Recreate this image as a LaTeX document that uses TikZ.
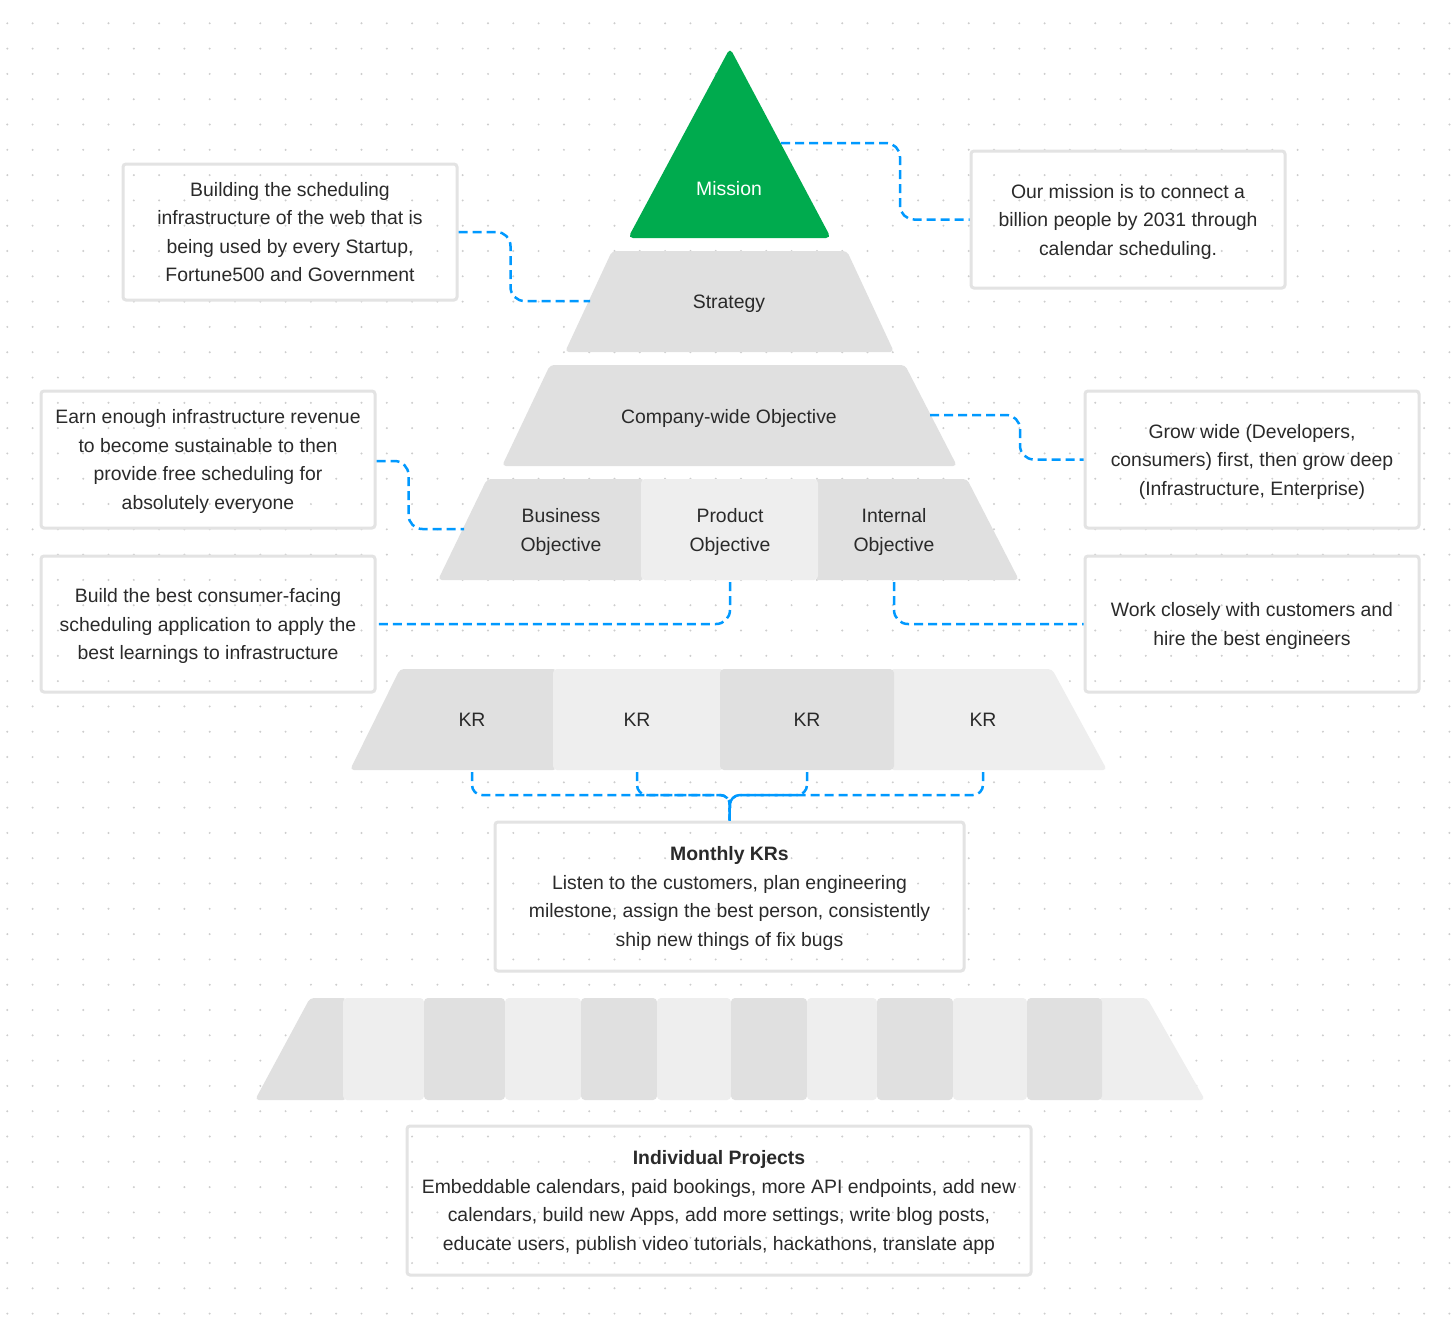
\documentclass[tikz,border=0pt]{standalone}
\usepackage{fontspec}
\setmainfont{Liberation Sans}
\usetikzlibrary{calc}

\definecolor{missiongreen}{HTML}{00AB4E}
\definecolor{tierdark}{HTML}{E0E0E0}
\definecolor{tierlight}{HTML}{EEEEEE}
\definecolor{linkblue}{HTML}{0099FF}
\definecolor{noteline}{HTML}{E3E3E3}
\definecolor{ink}{HTML}{2A2A2A}
\definecolor{griddot}{HTML}{CDCDCD}

\tikzset{
  note/.style={draw=noteline, line width=3pt, rounded corners=3pt, align=center,
    inner sep=0pt, text=ink, text depth=0pt, font=\fontsize{19.4}{28.5}\selectfont},
  tiertext/.style={align=center, text=ink, text depth=0pt, font=\fontsize{19.4}{28.5}\selectfont},
  link/.style={draw=linkblue, line width=2.5pt, dash pattern=on 9pt off 5pt, rounded corners=14pt},
}

\begin{document}
\begin{tikzpicture}[x=1pt,y=-1pt]

\fill[white] (0,0) rectangle (1452,1318);
\useasboundingbox (0,0) rectangle (1452,1318);

% dotted canvas
\foreach \gx in {0,...,57}
  \foreach \gy in {0,...,51}
    \fill[griddot] (7.3+25.3*\gx, 23.3+25.3*\gy) circle (1.1);

% pyramid
\fill[missiongreen, rounded corners=5pt] (730,48) -- (831,238) -- (628,238) -- cycle;
\fill[tierdark, rounded corners=4pt] (612,251) -- (847,251) -- (894,352) -- (565,352) -- cycle;
\fill[tierdark, rounded corners=4pt] (550,365) -- (905,365) -- (957,466) -- (502,466) -- cycle;

\fill[tierdark, rounded corners=4pt] (487,479) -- (645,479) -- (645,580) -- (438,580) -- cycle;
\fill[tierdark, rounded corners=4pt] (814,479) -- (967,479) -- (1019,580) -- (814,580) -- cycle;
\fill[tierlight, rounded corners=4pt] (641,479) rectangle (818,580);

\fill[tierdark, rounded corners=4pt] (400,669) -- (557,669) -- (557,770) -- (350,770) -- cycle;
\fill[tierlight, rounded corners=4pt] (890,669) -- (1052,669) -- (1107,770) -- (890,770) -- cycle;
\fill[tierlight, rounded corners=4pt] (553,669) rectangle (724,770);
\fill[tierdark, rounded corners=4pt] (720,669) rectangle (894,770);

% project strip
\fill[tierdark, rounded corners=4pt] (310,998) -- (347,998) -- (347,1100) -- (255,1100) -- cycle;
\fill[tierlight, rounded corners=4pt] (1098,998) -- (1147,998) -- (1205,1100) -- (1098,1100) -- cycle;
\foreach \xa/\xb [count=\i] in {343/424,424/505,505/581,581/657,657/731,731/807,807/877,877/953,953/1027,1027/1102}
{
  \pgfmathparse{mod(\i,2)==0 ? "tierdark" : "tierlight"}
  \fill[\pgfmathresult, rounded corners=4pt] (\xa,998) rectangle (\xb,1100);
}

% tier labels
\node[tiertext, text=white] (mission) at (729,188) {Mission};
\node[tiertext] (strategy) at (729,302) {Strategy};
\node[tiertext] (company) at (729,416) {Company-wide Objective};
\node[tiertext] (business) at (561,530) {Business\\Objective};
\node[tiertext] (product) at (730,530) {Product\\Objective};
\node[tiertext] (internal) at (894,530) {Internal\\Objective};
\node[tiertext] (kr1) at (472,720) {KR};
\node[tiertext] (kr2) at (637,720) {KR};
\node[tiertext] (kr3) at (807,720) {KR};
\node[tiertext] (kr4) at (983,720) {KR};

\coordinate (missionE) at (781,143);
\coordinate (strategyW) at (590,301);
\coordinate (companyE) at (930,415);
\coordinate (businessW) at (464,529);
\coordinate (objbase) at (0,582);
\coordinate (krbase) at (0,772);
\coordinate (krjoin) at (730,795);

% notes
\node[note, minimum width=334pt, minimum height=136pt] (strategyNote) at (290,232)
  {Building the scheduling\\infrastructure of the web that is\\being used by every Startup,\\Fortune500 and Government};
\node[note, minimum width=314pt, minimum height=137pt] (missionNote) at (1128,219.5)
  {Our mission is to connect a\\billion people by 2031 through\\calendar scheduling.};
\node[note, minimum width=334pt, minimum height=137pt] (revenueNote) at (208,459.5)
  {Earn enough infrastructure revenue\\to become sustainable to then\\provide free scheduling for\\absolutely everyone};
\node[note, minimum width=334pt, minimum height=137pt] (growNote) at (1252,459.5)
  {Grow wide (Developers,\\consumers) first, then grow deep\\(Infrastructure, Enterprise)};
\node[note, minimum width=334pt, minimum height=136pt] (consumerNote) at (208,624)
  {Build the best consumer-facing\\scheduling application to apply the\\best learnings to infrastructure};
\node[note, minimum width=334pt, minimum height=136pt] (hireNote) at (1252,624)
  {Work closely with customers and\\hire the best engineers};
\node[note, minimum width=469pt, minimum height=149pt] (monthly) at (729.5,896.5)
  {\textbf{Monthly KRs}\\Listen to the customers, plan engineering\\milestone, assign the best person, consistently\\ship new things of fix bugs};
\node[note, minimum width=624pt, minimum height=149pt] (projects) at (719,1200.5)
  {\textbf{Individual Projects}\\Embeddable calendars, paid bookings, more API endpoints, add new\\calendars, build new Apps, add more settings, write blog posts,\\educate users, publish video tutorials, hackathons, translate app};

% links
\draw[link] (missionE) -- ++(119,0) |- (missionNote.west);
\draw[link] (strategyNote.east) -- ++(52,0) |- (strategyW);
\draw[link] (companyE) -- ++(90,0) |- (growNote.west);
\draw[link] ($(revenueNote.east)+(0,1.5)$) -- ++(32,0) |- (businessW);
\draw[link] (product |- objbase) |- (consumerNote.east);
\draw[link] (internal |- objbase) |- (hireNote.west);
\foreach \k in {kr1,kr2,kr3,kr4}
  \draw[link, rounded corners=10pt] (\k |- krbase) |- (krjoin) -- (monthly.north);

\end{tikzpicture}
\end{document}
